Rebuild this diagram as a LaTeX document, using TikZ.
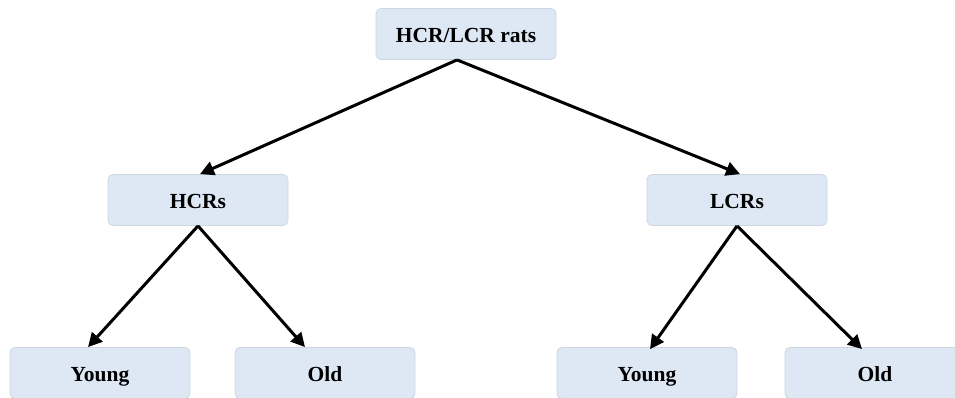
\documentclass[tikz,border=0pt]{standalone}
\usepackage{fontspec}
\setmainfont{Liberation Serif}
\usetikzlibrary{arrows.meta}
\definecolor{boxblue}{HTML}{DEE8F5}
\definecolor{boxedge}{HTML}{CDD5E0}
\begin{document}
\begin{tikzpicture}[x=1pt,y=1pt]
\tikzstyle{grp}=[draw=boxedge,fill=boxblue,line width=0.8pt,rounded corners=5pt,minimum width=180pt,minimum height=51pt,text height=17pt,text depth=1pt,font=\fontsize{21.5}{25}\selectfont\bfseries]
\tikzstyle{arr}=[black,line width=3pt,-{Triangle[length=14pt,width=14pt]}]
\clip (0,0) rectangle (955,-397);
\useasboundingbox (0,0) rectangle (955,-397);
\node [grp] (rats) at (466,-34) {HCR/LCR rats};
\node [grp] (hcr) at (198,-200) {HCRs};
\node [grp] (lcr) at (737,-200) {LCRs};
\node [grp] (hyoung) at (100,-373) {Young};
\node [grp] (hold) at (325,-373) {Old};
\node [grp] (lyoung) at (647,-373) {Young};
\node [grp] (lold) at (875,-373) {Old};
\draw [arr] ([xshift=-9pt]rats.south) -- ([xshift=2pt]hcr.north);
\draw [arr] ([xshift=-9pt]rats.south) -- ([xshift=3pt]lcr.north);
\draw [arr] (hcr.south) -- ([xshift=-12pt]hyoung.north);
\draw [arr] (hcr.south) -- ([xshift=-20pt]hold.north);
\draw [arr] (lcr.south) -- ([xshift=3pt,yshift=-2pt]lyoung.north);
\draw [arr] (lcr.south) -- ([xshift=-13pt,yshift=-2pt]lold.north);
\end{tikzpicture}
\end{document}
